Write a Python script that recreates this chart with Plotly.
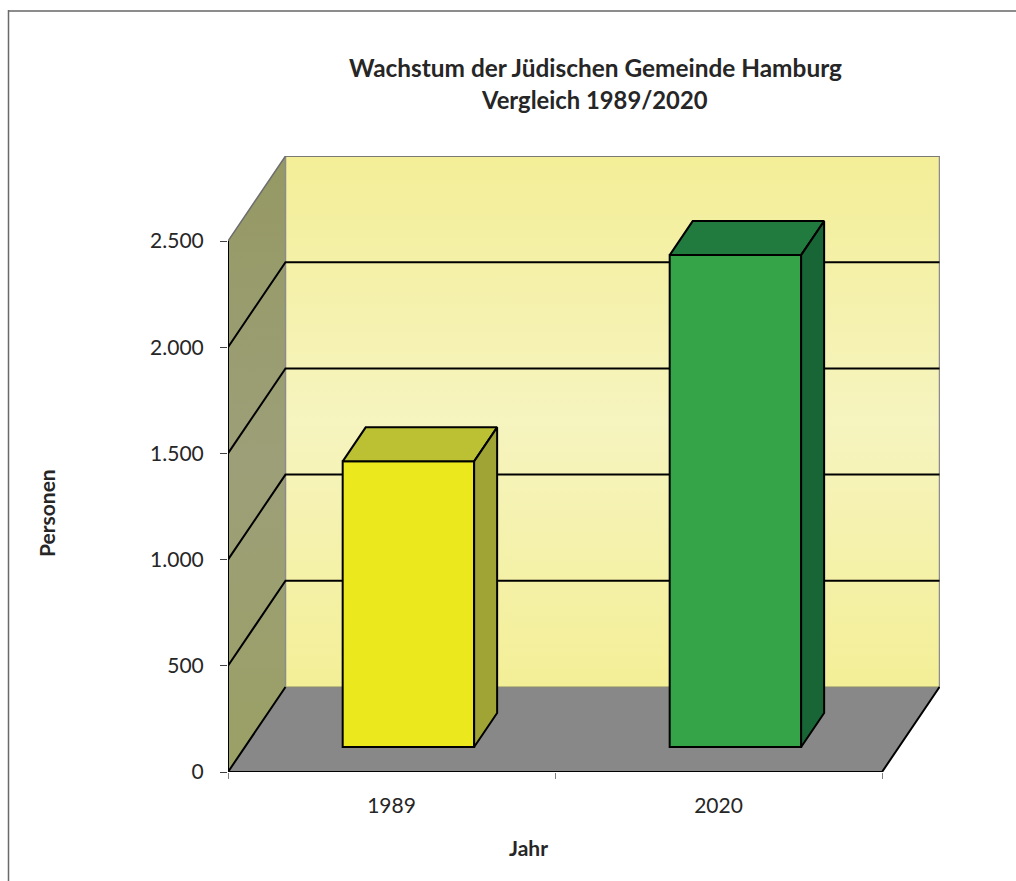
import plotly.graph_objects as go

years = ["1989", "2020"]
values = [1345, 2316]
y_ticks = [0, 500, 1000, 1500, 2000, 2500]
y_labels = ["0", "500", "1.000", "1.500", "2.000", "2.500"]
front_colors = ["#ECE81E", "#35A348"]
top_colors = ["#BBC133", "#217A3E"]
side_colors = ["#A0A435", "#186635"]

# plot box in pixels: front plane plus the depth of the pseudo-3D room
W, H = 1016, 881
LEFT, RIGHT, TOP, BOTTOM = 228, 940, 156, 772
CAT_PX, VAL_PX = 327.0, 531.0 / 2500
DX, DY = 57.5 / CAT_PX, 85 / VAL_PX          # room depth in data units
X0 = -0.5
X1 = X0 + 2
YMAX = 2500
BAR_W = 0.402
F_FRONT, F_DEPTH = 0.294, 0.40               # bar position and depth, share of room depth
x_range = [X0, X0 + (RIGHT - LEFT) / CAT_PX]
y_range = [0, (BOTTOM - TOP) / VAL_PX]

fig = go.Figure()


def poly(xs, ys, color=None, line=None, width=1.5, grad=None, axes=("x", "y")):
    kw = dict(x=xs, y=ys, mode="lines", hoverinfo="skip", showlegend=False,
              xaxis=axes[0], yaxis=axes[1])
    if grad is not None:
        kw.update(fill="toself", fillgradient=dict(type="vertical", colorscale=grad))
    elif color is not None:
        kw.update(fill="toself", fillcolor=color)
    kw["line"] = dict(color=line or "rgba(0,0,0,0)", width=width if line else 0)
    fig.add_trace(go.Scatter(**kw))


wall_grad = [[0, "#F3EF97"], [0.5, "#F6F4BF"], [1, "#F3EE97"]]
side_grad = [[0, "#9AA065"], [0.5, "#9D9F78"], [1, "#959963"]]

# back wall, left wall, floor
poly([X0 + DX, X1 + DX, X1 + DX, X0 + DX, X0 + DX],
     [DY, DY, YMAX + DY, YMAX + DY, DY], grad=wall_grad)
poly([X0, X0 + DX, X0 + DX, X0, X0], [0, DY, YMAX + DY, YMAX, 0], grad=side_grad)
poly([X0, X1, X1 + DX, X0 + DX, X0], [0, 0, DY, DY, 0], color="#888889")

# room edges
poly([X0 + DX, X0 + DX, X1 + DX, X1 + DX], [DY, YMAX + DY, YMAX + DY, DY], line="#8C8C8C", width=1.5)
poly([X0, X0 + DX, X1 + DX], [YMAX, YMAX + DY, YMAX + DY], line="#6E6E6E", width=1.5)
poly([X0 + DX, X1 + DX], [DY, DY], line="#8A8A70", width=1.2)

# gridlines run along the left wall and the back wall
for t in y_ticks[1:-1]:
    poly([X0, X0 + DX, X1 + DX], [t, t + DY, t + DY], line="#000000", width=2)

# floor and axis edges
poly([X0, X0], [0, YMAX], line="#000000", width=2)
poly([X0 + DX, X0, X1, X1 + DX], [DY, 0, 0, DY], line="#000000", width=2)

# bars on an overlaid axis pair so they sit above the room
bx = [i + F_FRONT * DX for i in range(len(values))]
base = F_FRONT * DY
fig.add_trace(go.Bar(
    x=bx, y=values, base=[base] * len(values), width=BAR_W,
    marker=dict(color=front_colors, line=dict(color="#000000", width=2)),
    xaxis="x2", yaxis="y2", showlegend=False, hoverinfo="skip",
))
ddx, ddy = F_DEPTH * DX, F_DEPTH * DY
for x, v, ct, cs in zip(bx, values, top_colors, side_colors):
    l, r, b, t = x - BAR_W / 2, x + BAR_W / 2, base, base + v
    poly([l, r, r + ddx, l + ddx, l], [t, t, t + ddy, t + ddy, t], color=ct, line="#000000", width=2, axes=("x2", "y2"))
    poly([r, r + ddx, r + ddx, r, r], [b, b + ddy, t + ddy, t, b], color=cs, line="#000000", width=2, axes=("x2", "y2"))


def px(x):
    return (x - LEFT) / (RIGHT - LEFT)


def py(y):
    return (BOTTOM - y) / (BOTTOM - TOP)


FONT = "Lato, 'Open Sans', sans-serif"
TXT = "#262626"
axis_common = dict(showgrid=False, zeroline=False, showline=False, fixedrange=True)
fig.update_layout(
    width=W, height=H,
    margin=dict(l=LEFT, r=W - RIGHT, t=TOP, b=H - BOTTOM, pad=0),
    paper_bgcolor="white", plot_bgcolor="rgba(0,0,0,0)",
    showlegend=False, barmode="overlay",
    font=dict(family=FONT, size=21, color=TXT),
    xaxis=dict(range=x_range, tickmode="array", tickvals=[0, 1], ticktext=years,
               ticks="", ticklabelstandoff=19,
               minor=dict(tickmode="array", tickvals=[X0, 0.5, X1], ticks="outside",
                          ticklen=6, tickwidth=1, tickcolor="#808080"),
               tickfont=dict(family=FONT, size=21, color=TXT), **axis_common),
    yaxis=dict(range=y_range, tickmode="array", tickvals=y_ticks, ticktext=y_labels,
               ticks="outside", ticklen=7, tickwidth=1, tickcolor="#404040",
               ticklabelstandoff=12, tickfont=dict(family=FONT, size=21, color=TXT), **axis_common),
    xaxis2=dict(range=x_range, overlaying="x", visible=False, fixedrange=True),
    yaxis2=dict(range=y_range, overlaying="y", visible=False, fixedrange=True),
    shapes=[
        dict(type="line", xref="paper", yref="paper", x0=px(8), x1=px(W), y0=py(11), y1=py(11),
             line=dict(color="#8C8C8C", width=2)),
        dict(type="line", xref="paper", yref="paper", x0=px(8.5), x1=px(8.5), y0=py(10), y1=py(H),
             line=dict(color="#6A6A6A", width=1.5)),
    ],
    annotations=[
        dict(text="<b>Wachstum der Jüdischen Gemeinde Hamburg</b>", xref="paper", yref="paper",
             x=px(595), y=py(67), xanchor="center", yanchor="middle", showarrow=False,
             font=dict(family=FONT, size=24.4, color=TXT)),
        dict(text="<b>Vergleich 1989/2020</b>", xref="paper", yref="paper",
             x=px(594), y=py(100), xanchor="center", yanchor="middle", showarrow=False,
             font=dict(family=FONT, size=23.8, color=TXT)),
        dict(text="<b>Jahr</b>", xref="paper", yref="paper", x=px(528), y=py(847),
             xanchor="center", yanchor="middle", showarrow=False,
             font=dict(family=FONT, size=21, color=TXT)),
        dict(text="<b>Personen</b>", xref="paper", yref="paper", x=px(46), y=py(513),
             xanchor="center", yanchor="middle", showarrow=False, textangle=-90,
             font=dict(family=FONT, size=21, color=TXT)),
    ],
)

fig.write_html("out.html", config={"displayModeBar": False},
               post_script="document.body.style.margin='0';document.documentElement.style.overflow='hidden';")
